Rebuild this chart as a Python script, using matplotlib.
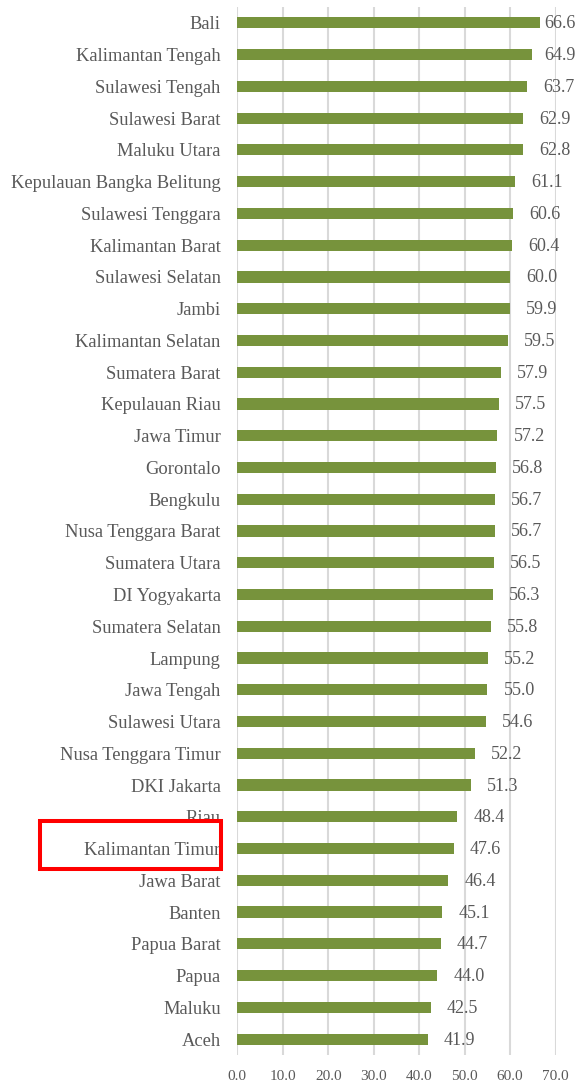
import matplotlib
matplotlib.use("Agg")
import matplotlib.pyplot as plt
import matplotlib.patches as patches
import matplotlib.transforms as transforms

# data, top to bottom
provinces = [
    "Bali", "Kalimantan Tengah", "Sulawesi Tengah", "Sulawesi Barat", "Maluku Utara",
    "Kepulauan Bangka Belitung", "Sulawesi Tenggara", "Kalimantan Barat", "Sulawesi Selatan",
    "Jambi", "Kalimantan Selatan", "Sumatera Barat", "Kepulauan Riau", "Jawa Timur",
    "Gorontalo", "Bengkulu", "Nusa Tenggara Barat", "Sumatera Utara", "DI Yogyakarta",
    "Sumatera Selatan", "Lampung", "Jawa Tengah", "Sulawesi Utara", "Nusa Tenggara Timur",
    "DKI Jakarta", "Riau", "Kalimantan Timur", "Jawa Barat", "Banten", "Papua Barat",
    "Papua", "Maluku", "Aceh",
]
values = [
    66.6, 64.9, 63.7, 62.9, 62.8, 61.1, 60.6, 60.4, 60.0, 59.9, 59.5, 57.9, 57.5, 57.2,
    56.8, 56.7, 56.7, 56.5, 56.3, 55.8, 55.2, 55.0, 54.6, 52.2, 51.3, 48.4, 47.6, 46.4,
    45.1, 44.7, 44.0, 42.5, 41.9,
]
x_ticks = [0, 10, 20, 30, 40, 50, 60, 70]
highlight = "Kalimantan Timur"

plt.rcParams['font.family'] = ['Liberation Serif', 'DejaVu Serif']
text_color = '#595959'
bar_color = '#77933C'

fig = plt.figure(figsize=(5.83, 10.82), dpi=100)
ax = fig.add_axes([0.407, 0.025, 0.546, 0.9685])

pos = list(range(len(provinces)))
ax.barh(pos, values, height=0.35, color=bar_color, zorder=3)

# value labels, pushed back a bit near the right edge
for i, v in zip(pos, values):
    ax.annotate(f"{v:.1f}", xy=(min(v, 64.0), i), xytext=(16, -1),
                textcoords='offset pixels', va='center', ha='left',
                fontsize=13, color=text_color, annotation_clip=False)

ax.set_ylim(len(provinces) - 0.5, -0.5)
ax.set_yticks(pos)
ax.set_yticklabels(provinces, fontsize=13.3, color=text_color)
ax.set_xlim(0, 70)
ax.set_xticks(x_ticks)
ax.set_xticklabels([f"{t:.1f}" for t in x_ticks], fontsize=11, color=text_color)
ax.tick_params(axis='y', length=0, pad=12)
ax.tick_params(axis='x', length=0, pad=10.5)
ax.xaxis.grid(True, color='#d9d9d9', linewidth=1.5, zorder=0)
ax.set_axisbelow(True)
for s in ax.spines.values():
    s.set_visible(False)

# red box around the highlighted label
k = provinces.index(highlight)
trans = transforms.blended_transform_factory(fig.transFigure, ax.transData)
box = patches.Rectangle((0.0686, k - 0.11 + 0.76), 0.3105, -1.52, transform=trans,
                        fill=False, edgecolor='#ff0000', linewidth=2.9,
                        clip_on=False, zorder=10)
fig.add_artist(box)

fig.savefig("out.png", dpi=100)
plt.close(fig)
